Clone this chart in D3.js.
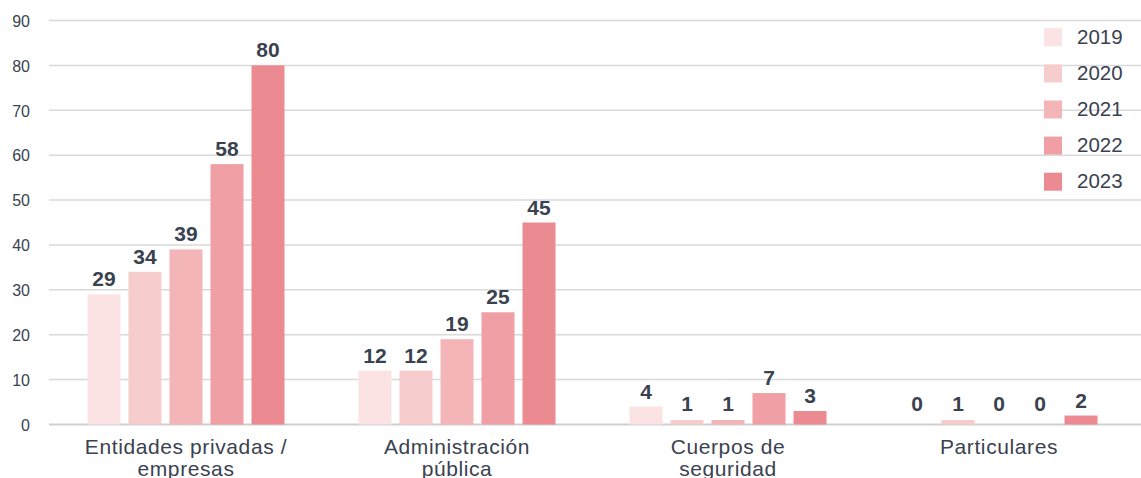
<!DOCTYPE html>
<html>
<head>
<meta charset="utf-8">
<script src="https://cdn.jsdelivr.net/npm/d3@7"></script>
<style>
  html, body { margin: 0; padding: 0; background: #ffffff; }
  svg { display: block; font-family: "Liberation Sans", Arial, Helvetica, sans-serif; }
</style>
</head>
<body>
<svg id="chart" width="1141" height="478"></svg>
<script>
// Categories (each label split into display lines)
const categories = ["Entidades privadas / empresas", "Administración pública", "Cuerpos de seguridad", "Particulares"];
const categoryLines = [["Entidades privadas /", "empresas"], ["Administración", "pública"], ["Cuerpos de", "seguridad"], ["Particulares"]];

// Years shown as series
const years = ["2019", "2020", "2021", "2022", "2023"];
const yearColors = ["#fbe3e3", "#f6cdcc", "#f4b5b9", "#f09fa5", "#ec8a92"];

// Values per year, in category order
const values2019 = [29, 12, 4, 0];
const values2020 = [34, 12, 1, 1];
const values2021 = [39, 19, 1, 0];
const values2022 = [58, 25, 7, 0];
const values2023 = [80, 45, 3, 2];
const seriesValues = [values2019, values2020, values2021, values2022, values2023];

// Y axis ticks
const yTicks = [0, 10, 20, 30, 40, 50, 60, 70, 80, 90];

const svg = d3.select("#chart");
const textColor = "#3a4250";

const y = d3.scaleLinear().domain([0, 90]).range([424.5, 20.5]);

const x0 = d3.scaleBand()
  .domain(categories)
  .range([50.5, 1134.5])
  .paddingInner(0.273)
  .paddingOuter(0.1365);

const x1 = d3.scaleBand()
  .domain(years)
  .range([0, x0.bandwidth()])
  .paddingInner(0.195)
  .paddingOuter(0);

const color = d3.scaleOrdinal().domain(years).range(yearColors);

// Horizontal grid lines + tick labels
const yAxis = d3.axisLeft(y).tickValues(yTicks).tickSize(0).tickPadding(0);
const gAxis = svg.append("g").attr("transform", "translate(30,0)").call(yAxis);
gAxis.select(".domain").remove();
gAxis.selectAll("text")
  .attr("x", 0)
  .attr("dy", "0.36em")
  .attr("fill", textColor)
  .style("font-size", "16px")
  .style("font-family", "'Liberation Sans', Arial, sans-serif");

svg.append("g").selectAll("line")
  .data(yTicks)
  .join("line")
  .attr("x1", 49)
  .attr("x2", 1141)
  .attr("y1", d => y(d))
  .attr("y2", d => y(d))
  .attr("stroke", d => d === 0 ? "#cfcfcf" : "#d9d9d9")
  .attr("stroke-width", d => d === 0 ? 2 : 1.5);

// Bars grouped by category
const rows = categories.map((c, i) => ({
  category: c,
  items: years.map((yr, j) => ({ year: yr, value: seriesValues[j][i] }))
}));

const groups = svg.append("g").selectAll("g")
  .data(rows)
  .join("g")
  .attr("transform", d => `translate(${x0(d.category)},0)`);

groups.selectAll("rect")
  .data(d => d.items)
  .join("rect")
  .attr("x", d => x1(d.year))
  .attr("width", x1.bandwidth())
  .attr("y", d => y(d.value))
  .attr("height", d => y(0) - y(d.value))
  .attr("fill", d => color(d.year));

// Value labels above bars
groups.selectAll("text.value")
  .data(d => d.items)
  .join("text")
  .attr("class", "value")
  .attr("x", d => x1(d.year) + x1.bandwidth() / 2)
  .attr("y", d => Math.min(y(d.value) - 8, y(0) - 13.5))
  .attr("text-anchor", "middle")
  .attr("fill", textColor)
  .style("font-size", "21px")
  .style("font-weight", "bold")
  .text(d => d.value);

// Category labels
const catLabels = svg.append("g").selectAll("text")
  .data(categories)
  .join("text")
  .attr("x", d => x0(d) + x0.bandwidth() / 2)
  .attr("y", 454)
  .attr("text-anchor", "middle")
  .attr("fill", textColor)
  .style("font-size", "21px")
  .style("letter-spacing", "0.6px");

catLabels.selectAll("tspan")
  .data((d, i) => categoryLines[i])
  .join("tspan")
  .attr("x", function () { return d3.select(this.parentNode).attr("x"); })
  .attr("dy", (d, i) => i === 0 ? 0 : 21.5)
  .text(d => d);

// Legend
const legend = svg.append("g").attr("transform", "translate(1044,28.3)");
const legendItems = legend.selectAll("g")
  .data(years)
  .join("g")
  .attr("transform", (d, i) => `translate(0,${i * 36.1})`);

legendItems.append("rect")
  .attr("width", 18)
  .attr("height", 18)
  .attr("fill", d => color(d));

legendItems.append("text")
  .attr("x", 33)
  .attr("y", 15.5)
  .attr("fill", textColor)
  .style("font-size", "20.5px")
  .text(d => d);
</script>
</body>
</html>
